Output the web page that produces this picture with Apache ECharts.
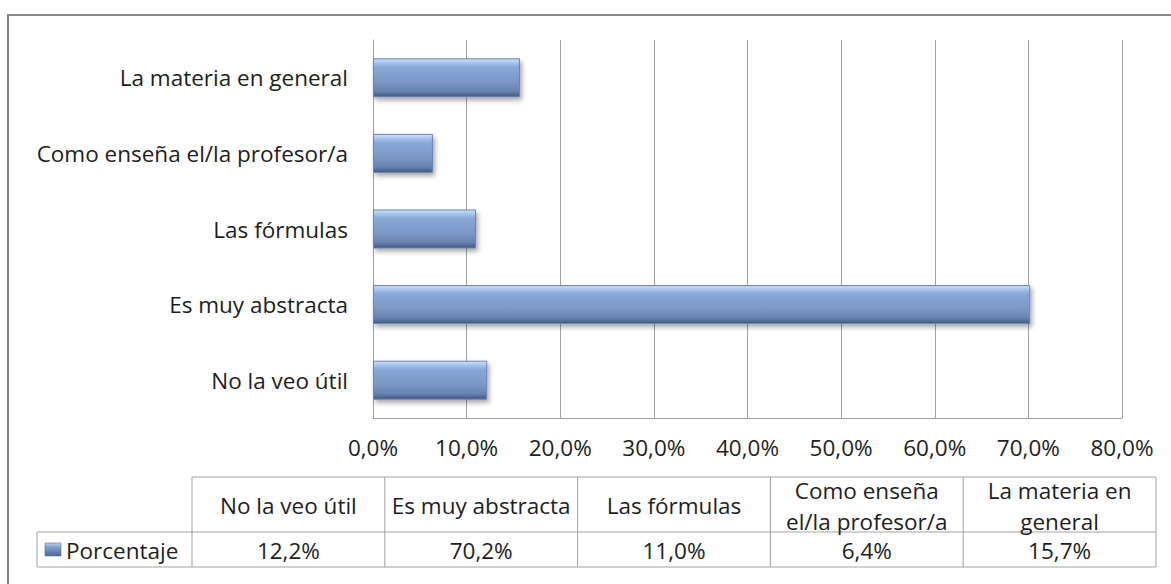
<!DOCTYPE html>
<html>
<head>
<meta charset="utf-8">
<script src="https://cdn.jsdelivr.net/npm/echarts@6/dist/echarts.min.js"></script>
<style>
html,body{margin:0;padding:0;background:#fff;}
#chart{width:1171px;height:584px;}
</style>
</head>
<body>
<div id="chart"></div>
<script>
const categories = ['No la veo útil', 'Es muy abstracta', 'Las fórmulas', 'Como enseña el/la profesor/a', 'La materia en general'];
const values = [12.2, 70.2, 11.0, 6.4, 15.7];
const tableHeaders = ['No la veo útil', 'Es muy abstracta', 'Las fórmulas', 'Como enseña\nel/la profesor/a', 'La materia en\ngeneral'];
const seriesName = 'Porcentaje';
const axisMin = 0, axisMax = 80, axisStep = 10;

const FONT = '"Open Sans"';
const FS = 22.5;
const TXT = '#1e1e1e';
const LINE = '#a3a3a3';
const fmt = v => v.toFixed(1).replace('.', ',') + '%';

const chart = echarts.init(document.getElementById('chart'), null, {renderer: 'svg'});

// table geometry
const tLeft = 37, tColStart = 192, tColW = 192.8, tTop = 477, tMid = 532, tBot = 567;
const tRight = tColStart + tColW * categories.length;

const graphics = [];
// outer chart border
graphics.push({type: 'rect', shape: {x: 8, y: 15, width: 1200, height: 620},
  style: {fill: 'none', stroke: '#8a8a8a', lineWidth: 2}, silent: true, z: 0});
// table lines
const hl = (x1, x2, y) => graphics.push({type: 'line', shape: {x1, y1: y, x2, y2: y}, style: {stroke: LINE, lineWidth: 1}, z: 5});
const vl = (x, y1, y2) => graphics.push({type: 'line', shape: {x1: x, y1, x2: x, y2}, style: {stroke: LINE, lineWidth: 1}, z: 5});
hl(tColStart, tRight, tTop);
hl(tLeft, tRight, tMid);
hl(tLeft, tRight, tBot);
vl(tLeft, tMid, tBot);
for (let i = 0; i <= categories.length; i++) vl(tColStart + tColW * i, tTop, tBot);
// header and value texts
tableHeaders.forEach((h, i) => {
  const cx = tColStart + tColW * (i + 0.5);
  graphics.push({type: 'text', x: cx, y: (tTop + tMid) / 2 + 1, z: 6,
    style: {text: h, font: FS + 'px ' + FONT, fill: TXT, align: 'center', verticalAlign: 'middle', lineHeight: 31}});
  graphics.push({type: 'text', x: cx, y: (tMid + tBot) / 2 + 1, z: 6,
    style: {text: fmt(values[i]), font: FS + 'px ' + FONT, fill: TXT, align: 'center', verticalAlign: 'middle'}});
});
// legend key + series name
graphics.push({type: 'rect', shape: {x: 45, y: 543, width: 16, height: 13}, z: 6,
  style: {fill: {type: 'linear', x: 0, y: 0, x2: 0, y2: 1, colorStops: [
    {offset: 0, color: '#b8cff0'}, {offset: 0.35, color: '#7f9dcc'}, {offset: 1, color: '#4d6591'}]},
    stroke: '#5a7299', lineWidth: 0.6}});
graphics.push({type: 'text', x: 66, y: (tMid + tBot) / 2 + 1, z: 6,
  style: {text: seriesName, font: FS + 'px ' + FONT, fill: TXT, align: 'left', verticalAlign: 'middle'}});

const option = {
  backgroundColor: '#ffffff',
  animation: false,
  grid: {left: 373, right: 49, top: 40, bottom: 166, containLabel: false},
  xAxis: {
    type: 'value', min: axisMin, max: axisMax, interval: axisStep,
    axisLine: {show: true, lineStyle: {color: LINE, width: 1}},
    axisTick: {show: false},
    splitLine: {show: true, lineStyle: {color: LINE, width: 1}},
    axisLabel: {formatter: fmt, color: TXT, fontFamily: FONT, fontSize: FS, margin: 18}
  },
  yAxis: {
    type: 'category', data: categories,
    axisLine: {show: true, lineStyle: {color: LINE, width: 1}},
    axisTick: {show: false},
    axisLabel: {color: TXT, fontFamily: FONT, fontSize: FS, margin: 25}
  },
  series: [{
    name: seriesName, type: 'bar', data: values, barWidth: 39,
    itemStyle: {
      color: {type: 'linear', x: 0, y: 0, x2: 0, y2: 1, colorStops: [
        {offset: 0, color: '#cde2fa'},
        {offset: 0.1, color: '#a9c5ee'},
        {offset: 0.22, color: '#89a8d8'},
        {offset: 0.6, color: '#7b98c7'},
        {offset: 0.85, color: '#6783b0'},
        {offset: 1, color: '#435880'}]},
      borderColor: '#6a84ae', borderWidth: 1,
      shadowColor: 'rgba(0,0,0,0.35)', shadowBlur: 5, shadowOffsetX: 2, shadowOffsetY: 3
    }
  }],
  graphic: graphics
};
chart.setOption(option);
</script>
</body>
</html>
